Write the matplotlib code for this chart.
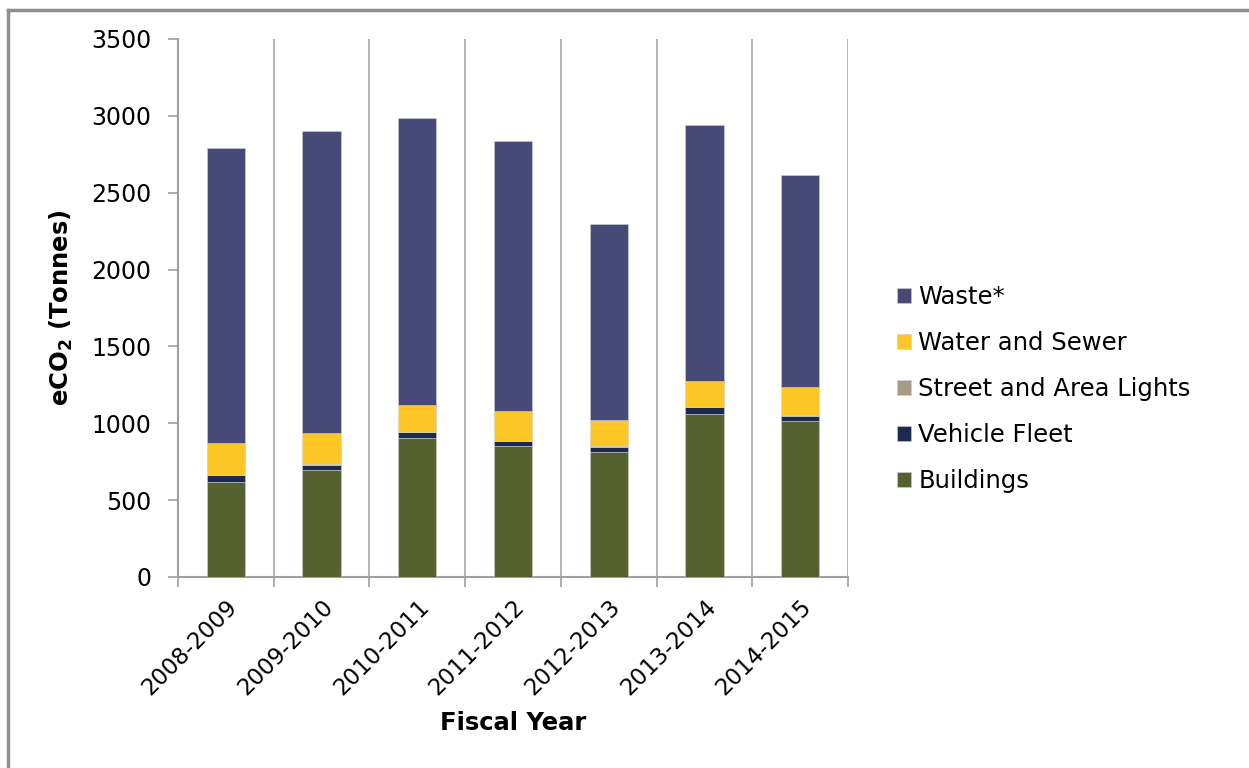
import matplotlib.pyplot as plt
from matplotlib.lines import Line2D
import numpy as np

plt.rcParams['font.family'] = ['DejaVu Sans']
plt.rcParams['mathtext.default'] = 'regular'

# Data (eCO2 tonnes)
years = ['2008-2009', '2009-2010', '2010-2011', '2011-2012',
         '2012-2013', '2013-2014', '2014-2015']
buildings = [620, 696, 904, 854, 813, 1063, 1013]
vehicle_fleet = [42, 35, 37, 29, 35, 41, 37]
street_lights = [4, 4, 4, 4, 4, 4, 4]
water_sewer = [204, 202, 176, 191, 168, 169, 182]
waste = [1920, 1963, 1865, 1759, 1277, 1664, 1380]

series = [
    ('Buildings', buildings, '#556130'),
    ('Vehicle Fleet', vehicle_fleet, '#1B2A4E'),
    ('Street and Area Lights', street_lights, '#A89A87'),
    ('Water and Sewer', water_sewer, '#FFC627'),
    ('Waste*', waste, '#474A77'),
]

fig = plt.figure(figsize=(12.49, 7.68), dpi=100)
ax = fig.add_axes([178 / 1249, (768 - 577) / 768, 670 / 1249, 538 / 768])

x = np.arange(len(years))
bottom = np.zeros(len(years))
handles = []
for name, vals, color in series:
    b = ax.bar(x, vals, width=0.4, bottom=bottom, color=color,
               edgecolor='#d0d0d0', linewidth=0.4, label=name, zorder=3)
    handles.append(b)
    bottom += np.array(vals)

ax.set_xlim(-0.5, len(years) - 0.5)
ax.set_ylim(0, 3500)
ax.set_yticks(np.arange(0, 3501, 500))

# category boundaries: minor ticks + vertical grid
ax.set_xticks(x)
ax.set_xticklabels(years, rotation=45, ha='right', rotation_mode='anchor',
                   fontsize=16.5)
ax.set_xticks(np.arange(-0.5, len(years)), minor=True)
ax.tick_params(axis='x', which='major', length=0, pad=13)
ax.tick_params(axis='x', which='minor', length=7, color='#a0a0a0',
               direction='out', width=1.2)
ax.tick_params(axis='y', length=7, color='#a0a0a0', width=1.2,
               labelsize=17, pad=12)
ax.grid(True, which='minor', axis='x', color='#a8a8a8', linewidth=1.2,
        zorder=0)
ax.grid(False, which='major')

for side in ['top', 'right']:
    ax.spines[side].set_visible(False)
for side in ['left', 'bottom']:
    ax.spines[side].set_color('#a0a0a0')
    ax.spines[side].set_linewidth(1.5)

ax.set_xlabel('Fiscal Year', fontsize=17.5, fontweight='bold', labelpad=8)
ax.set_ylabel('eCO$_2$ (Tonnes)', fontsize=17.5, fontweight='bold',
              labelpad=12)

leg = fig.legend(handles[::-1], [s[0] for s in series][::-1],
                 loc='center left', bbox_to_anchor=(897 / 1249, 1 - 389 / 768),
                 frameon=False, fontsize=17.5, handlelength=0.58,
                 handleheight=0.58, handletextpad=0.3, labelspacing=0.9,
                 borderpad=0, borderaxespad=0)

# outer frame (top and left edges)
fig.add_artist(Line2D([8 / 1249, 8 / 1249], [0, 1 - 10 / 768],
                      color='#909090', linewidth=2.5))
fig.add_artist(Line2D([8 / 1249, 1], [1 - 10 / 768, 1 - 10 / 768],
                      color='#909090', linewidth=2.5))

fig.savefig('out.png', dpi=100)
